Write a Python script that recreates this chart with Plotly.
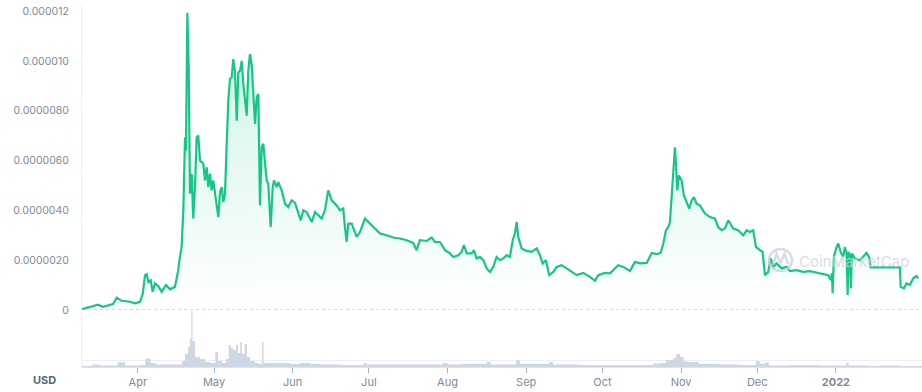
import plotly.graph_objects as go

# ---- price (micro-USD, i.e. x 1e-6 USD) ----
price_dates = [
 "2021-03-10 00:00","2021-03-13 04:00","2021-03-16 07:00","2021-03-18 06:00","2021-03-22 05:00",
 "2021-03-23 16:00","2021-03-25 15:00","2021-03-28 22:00","2021-03-30 21:00","2021-04-01 20:00",
 "2021-04-02 22:00","2021-04-03 20:00","2021-04-04 12:00","2021-04-05 03:00","2021-04-06 01:00",
 "2021-04-06 20:00","2021-04-07 18:00","2021-04-09 01:00","2021-04-10 09:00","2021-04-12 02:00",
 "2021-04-13 16:00","2021-04-15 15:00","2021-04-16 22:00","2021-04-17 14:00","2021-04-18 06:00",
 "2021-04-18 22:00","2021-04-19 14:00","2021-04-19 23:00","2021-04-20 12:00","2021-04-21 01:00",
 "2021-04-21 13:00","2021-04-22 05:00","2021-04-22 20:00","2021-04-23 12:00","2021-04-24 04:00",
 "2021-04-24 19:00","2021-04-25 12:00","2021-04-26 19:00","2021-04-27 11:00","2021-04-28 03:00",
 "2021-04-28 18:00","2021-04-29 10:00","2021-04-30 02:00","2021-04-30 17:00","2021-05-02 01:00",
 "2021-05-02 17:00","2021-05-03 09:00","2021-05-04 01:00","2021-05-04 16:00","2021-05-05 08:00",
 "2021-05-06 00:00","2021-05-06 15:00","2021-05-07 07:00","2021-05-07 23:00","2021-05-08 14:00",
 "2021-05-09 06:00","2021-05-09 23:00","2021-05-10 14:00","2021-05-11 06:00","2021-05-11 22:00",
 "2021-05-12 13:00","2021-05-13 05:00","2021-05-13 21:00","2021-05-14 12:00","2021-05-15 04:00",
 "2021-05-15 20:00","2021-05-16 12:00","2021-05-17 04:00","2021-05-17 20:00","2021-05-18 11:00",
 "2021-05-19 03:00","2021-05-19 19:00","2021-05-20 10:00","2021-05-21 02:00","2021-05-21 18:00",
 "2021-05-22 09:00","2021-05-23 08:00","2021-05-24 03:00","2021-05-24 15:00","2021-05-25 17:00",
 "2021-05-26 08:00","2021-05-27 16:00","2021-05-28 23:00","2021-05-30 06:00","2021-05-31 14:00",
 "2021-06-01 22:00","2021-06-03 05:00","2021-06-04 04:00","2021-06-05 04:00","2021-06-06 12:00",
 "2021-06-08 12:00","2021-06-09 19:00","2021-06-11 02:00","2021-06-12 10:00","2021-06-13 17:00",
 "2021-06-15 00:00","2021-06-16 09:00","2021-06-18 08:00","2021-06-19 15:00","2021-06-20 22:00",
 "2021-06-21 14:00","2021-06-22 06:00","2021-06-22 22:00","2021-06-24 06:00","2021-06-26 05:00",
 "2021-06-27 12:00","2021-06-29 11:00","2021-06-30 18:00","2021-07-02 18:00","2021-07-05 09:00",
 "2021-07-08 00:00","2021-07-10 15:00","2021-07-13 06:00","2021-07-15 22:00","2021-07-18 12:00",
 "2021-07-19 20:00","2021-07-21 03:00","2021-07-23 19:00","2021-07-25 18:00","2021-07-27 01:00",
 "2021-07-29 00:00","2021-07-31 00:00","2021-08-01 23:00","2021-08-03 06:00","2021-08-05 06:00",
 "2021-08-06 13:00","2021-08-07 11:00","2021-08-08 13:00","2021-08-10 12:00","2021-08-11 10:00",
 "2021-08-12 11:00","2021-08-13 18:00","2021-08-15 02:00","2021-08-16 10:00","2021-08-17 17:00",
 "2021-08-19 00:00","2021-08-20 08:00","2021-08-21 16:00","2021-08-22 23:00","2021-08-24 07:00",
 "2021-08-25 14:00","2021-08-26 16:00","2021-08-27 13:00","2021-08-28 06:00","2021-08-28 21:00",
 "2021-08-30 05:00","2021-09-01 04:00","2021-09-03 03:00","2021-09-05 03:00","2021-09-06 10:00",
 "2021-09-07 11:00","2021-09-08 18:00","2021-09-10 02:00","2021-09-11 16:00","2021-09-13 00:00",
 "2021-09-14 23:00","2021-09-16 22:00","2021-09-18 22:00","2021-09-20 21:00","2021-09-23 11:00",
 "2021-09-26 02:00","2021-09-28 02:00","2021-09-29 09:00","2021-10-02 00:00","2021-10-04 00:00",
 "2021-10-07 06:00","2021-10-09 05:00","2021-10-11 21:00","2021-10-13 20:00","2021-10-15 19:00",
 "2021-10-18 11:00","2021-10-20 10:00","2021-10-22 09:00","2021-10-23 23:00","2021-10-25 00:00",
 "2021-10-26 01:00","2021-10-26 23:00","2021-10-27 15:00","2021-10-28 07:00","2021-10-28 22:00",
 "2021-10-29 14:00","2021-10-30 00:00","2021-10-30 12:00","2021-10-31 04:00","2021-11-01 05:00",
 "2021-11-02 03:00","2021-11-03 05:00","2021-11-04 05:00","2021-11-05 04:00","2021-11-06 02:00",
 "2021-11-07 03:00","2021-11-08 10:00","2021-11-10 10:00","2021-11-12 09:00","2021-11-14 08:00",
 "2021-11-15 15:00","2021-11-17 00:00","2021-11-18 07:00","2021-11-19 14:00","2021-11-21 13:00",
 "2021-11-23 12:00","2021-11-25 12:00","2021-11-26 20:00","2021-11-28 03:00","2021-11-29 10:00",
 "2021-11-30 12:00","2021-12-02 02:00","2021-12-03 03:00","2021-12-04 01:00","2021-12-05 08:00",
 "2021-12-06 07:00","2021-12-07 07:00","2021-12-08 15:00","2021-12-10 15:00","2021-12-12 14:00",
 "2021-12-13 21:00","2021-12-16 12:00","2021-12-19 03:00","2021-12-21 18:00","2021-12-24 10:00",
 "2021-12-27 00:00","2021-12-28 23:00","2021-12-29 22:00","2021-12-30 10:00","2021-12-30 17:00",
 "2021-12-31 05:00","2022-01-01 07:00","2022-01-01 22:00","2022-01-02 21:00","2022-01-03 21:00",
 "2022-01-04 13:00","2022-01-05 05:00","2022-01-05 15:00","2022-01-06 00:00","2022-01-06 12:00",
 "2022-01-06 22:00","2022-01-07 07:00","2022-01-08 12:00","2022-01-10 11:00","2022-01-11 18:00",
 "2022-01-13 02:00","2022-01-14 03:00","2022-01-14 16:00","2022-01-26 05:00","2022-01-26 12:00",
 "2022-01-27 19:00","2022-01-28 20:00","2022-01-30 03:00","2022-01-31 11:00","2022-02-01 19:00",
 "2022-02-02 10:00",
]
price_usd_e6 = [
 0.03,0.11,0.21,0.13,0.24,
 0.49,0.37,0.33,0.27,0.33,
 0.64,1.40,1.44,1.13,1.20,
 0.73,1.07,0.96,0.73,1.00,
 0.83,0.93,1.60,2.13,2.53,
 4.00,6.93,6.40,11.93,9.73,
 4.67,5.47,3.67,4.93,6.93,
 7.00,6.00,5.87,5.20,5.73,
 4.93,5.47,4.80,5.20,4.27,
 3.73,4.73,4.93,4.33,4.67,
 6.67,8.40,9.27,9.33,10.07,
 9.60,7.60,9.53,9.60,10.00,
 9.07,8.40,7.80,9.60,10.27,
 9.87,8.67,7.47,8.53,8.67,
 4.20,6.53,6.67,6.00,5.20,
 5.07,3.33,4.93,5.20,4.93,
 5.13,4.80,4.27,4.13,4.40,
 4.30,3.93,3.60,4.00,3.93,
 3.53,3.93,3.80,3.67,4.00,
 4.80,4.40,4.20,4.00,4.07,
 3.33,2.73,3.47,3.47,2.93,
 3.13,3.67,3.53,3.33,3.07,
 3.00,2.91,2.87,2.80,2.69,
 2.40,2.80,2.77,2.91,2.73,
 2.73,2.40,2.27,2.13,2.20,
 2.33,2.60,2.27,2.27,2.40,
 2.07,2.13,2.00,1.67,1.53,
 1.73,2.13,2.00,2.07,2.20,
 2.13,2.80,3.07,3.53,2.93,
 2.47,2.37,2.33,2.47,2.20,
 1.87,2.00,1.40,1.53,1.73,
 1.80,1.67,1.53,1.40,1.49,
 1.33,1.17,1.40,1.49,1.47,
 1.80,1.73,1.57,1.93,1.87,
 1.89,2.29,2.24,2.29,2.67,
 3.20,3.33,3.53,4.53,5.87,
 6.53,5.87,4.80,5.40,5.20,
 4.60,4.33,4.07,4.40,4.53,
 4.27,4.20,3.87,3.73,3.67,
 3.33,3.20,3.27,3.60,3.27,
 3.20,3.00,3.20,3.13,3.20,
 2.53,2.40,2.33,1.40,1.53,
 2.07,1.73,1.87,1.67,1.73,
 1.56,1.60,1.53,1.56,1.49,
 1.44,1.40,1.20,1.47,0.67,
 2.13,2.53,2.67,2.33,2.13,
 2.53,2.27,0.60,2.33,2.20,
 0.87,2.27,2.07,2.00,2.13,
 2.29,2.11,1.71,1.71,0.93,
 0.87,1.07,1.00,1.27,1.36,
 1.27,
]

# ---- volume (relative units) ----
volume_dates = [
 "2021-03-10","2021-03-14","2021-03-17","2021-03-24","2021-03-27","2021-04-02","2021-04-04",
 "2021-04-06","2021-04-08","2021-04-12","2021-04-16","2021-04-18 09:00","2021-04-19 14:00",
 "2021-04-20 18:00","2021-04-21 13:00","2021-04-22 01:00","2021-04-22 13:00","2021-04-23 12:00",
 "2021-04-25 12:00","2021-04-27 11:00","2021-04-29 10:00","2021-05-01 12:00","2021-05-02 14:00",
 "2021-05-04 04:00","2021-05-05 17:00","2021-05-06 19:00","2021-05-07 17:00","2021-05-08 12:00",
 "2021-05-09 16:00","2021-05-10 11:00","2021-05-11 08:00","2021-05-12 00:00","2021-05-13 02:00",
 "2021-05-14 00:00","2021-05-15 04:00","2021-05-17 04:00","2021-05-18 08:00","2021-05-19 22:00",
 "2021-05-20 12:00","2021-05-23","2021-05-27","2021-05-31","2021-06-04","2021-06-08",
 "2021-06-12","2021-06-20","2021-06-29","2021-06-30","2021-07-05","2021-07-13","2021-07-21",
 "2021-07-30","2021-08-01","2021-08-06","2021-08-16 12:00","2021-08-18","2021-08-28",
 "2021-08-29 12:00","2021-09-10","2021-09-11 12:00","2021-09-22","2021-09-30","2021-10-08",
 "2021-10-16","2021-10-21","2021-10-24","2021-10-26","2021-10-29","2021-10-30","2021-10-31 14:00",
 "2021-11-02","2021-11-04","2021-11-08","2021-11-16","2021-11-24","2021-11-30 12:00",
 "2021-12-02","2021-12-04","2021-12-05 14:00","2021-12-14","2021-12-25","2022-01-05",
 "2022-01-06","2022-01-14","2022-01-18","2022-01-26","2022-02-03 22:00",
]
volume_rel = [
 1,2.5,1.5,4.7,1.5,2,8.4,
 4,2.5,2.5,2.5,6,13,
 20,28,56,26,10,
 8,5,4,15,6,
 4,8,22,19,17,
 22,14,25,13,23,
 10,6,4,3,25,
 4,4,4,3,4,3,
 2.5,2,4,2.5,2.5,2.5,2.5,
 4,2.5,3,5,2.5,6.7,
 3,5,2.5,2,2,2,
 2,3.5,4,7,9,12.7,10,
 5.5,5,3,2.5,2,6,
 3,4.5,1.5,2,1.5,4,
 1.5,1,1.5,1,1,
]

# ---- axis tick labels ----
price_tick_vals = [0, 2, 4, 6, 8, 10, 12]
price_tick_text = ["0", "0.0000020", "0.0000040", "0.0000060", "0.0000080", "0.000010", "0.000012"]
month_tick_vals = ["2021-04-01", "2021-05-01", "2021-06-01", "2021-07-01", "2021-08-01",
                   "2021-09-01", "2021-10-01", "2021-11-01", "2021-12-01", "2022-01-01"]
month_tick_text = ["Apr", "May", "Jun", "Jul", "Aug", "Sep", "Oct", "Nov", "Dec", "<b>2022</b>"]

GREEN = "#16c784"
LABEL = "#808a9d"
FONT = "Inter"
FS = 10.5

fig = go.Figure()

fig.add_trace(go.Scatter(
    x=volume_dates, y=volume_rel, yaxis="y2", mode="lines", line_shape="hv",
    line=dict(width=0, color="#cfd6e4"), fill="tozeroy", fillcolor="#cfd6e4",
    hoverinfo="skip", showlegend=False))

fig.add_trace(go.Scatter(
    x=price_dates, y=price_usd_e6, yaxis="y", mode="lines",
    line=dict(color=GREEN, width=2.2), fill="tozeroy",
    fillgradient=dict(type="vertical",
                      colorscale=[[0, "rgba(22,199,132,0.0)"], [1, "rgba(22,199,132,0.22)"]]),
    hoverinfo="skip", showlegend=False))

dom_split = 57 / 362
y_max = 12 * 305 / 299

fig.update_layout(
    width=922, height=392,
    margin=dict(l=82, r=0, t=5, b=25, autoexpand=False),
    paper_bgcolor="white", plot_bgcolor="white",
    font=dict(family=FONT, size=FS, color=LABEL),
    xaxis=dict(
        type="date", range=["2021-03-10", "2022-02-03 22:00"], anchor="y2",
        tickmode="array", tickvals=month_tick_vals, ticktext=month_tick_text,
        ticks="outside", ticklen=5, tickcolor="#a6b0c3", tickwidth=1,
        showline=True, linecolor="#dfe3eb", linewidth=1,
        showgrid=False, zeroline=False, automargin=False,
        tickfont=dict(family=FONT, size=FS + 0.5, color=LABEL),
    ),
    yaxis=dict(
        domain=[dom_split, 1], range=[0, y_max], automargin=False,
        tickmode="array", tickvals=price_tick_vals, ticktext=price_tick_text,
        showgrid=False, zeroline=False, showline=True, linecolor="#eff2f5", linewidth=1,
        ticks="", ticklabelstandoff=10,
        tickfont=dict(family=FONT, size=FS, color=LABEL),
    ),
    yaxis3=dict(
        overlaying="y", range=[0, y_max], automargin=False,
        tickmode="array", tickvals=[2, 4, 6, 8, 10, 12],
        showgrid=True, gridcolor="#eff2f5", gridwidth=1,
        showticklabels=False, zeroline=False, showline=False,
    ),
    yaxis2=dict(
        domain=[0, dom_split], range=[0, 57], automargin=False,
        tickmode="array", tickvals=[7], showgrid=True, gridcolor="#eceff4",
        showticklabels=False, zeroline=False, showline=True, linecolor="#eff2f5",
        ticks="",
    ),
)

# dotted zero line of the price panel
fig.add_shape(type="line", xref="paper", x0=0, x1=1, yref="y", y0=0, y1=0,
              line=dict(color="#a6b0c3", width=1, dash="dot"), layer="above")

# watermark
WM = "rgba(200,207,222,0.75)"
fig.add_shape(type="circle", xref="paper", yref="paper",
              x0=(769 - 82) / 840, x1=(792 - 82) / 840, y0=(367 - 271) / 362, y1=(367 - 249) / 362,
              line=dict(color=WM, width=2.5), layer="above")
fig.add_shape(type="path", xref="paper", yref="paper",
              path="M %f %f L %f %f L %f %f L %f %f L %f %f" % (
                  (773 - 82) / 840, (367 - 265) / 362,
                  (776.5 - 82) / 840, (367 - 254) / 362,
                  (780.5 - 82) / 840, (367 - 263) / 362,
                  (784.5 - 82) / 840, (367 - 254) / 362,
                  (788 - 82) / 840, (367 - 264) / 362),
              line=dict(color=WM, width=2.5), layer="above")
fig.add_annotation(text="CoinMarketCap", xref="paper", yref="paper",
                   x=(854 - 82) / 840, y=(367 - 261) / 362, showarrow=False,
                   xanchor="center", yanchor="middle",
                   font=dict(family=FONT, size=15, color=WM))

fig.add_annotation(text="<b>USD</b>", xref="paper", yref="paper",
                   x=(44 - 82) / 840, y=(367 - 380) / 362, showarrow=False,
                   xanchor="center", yanchor="middle",
                   font=dict(family=FONT, size=11, color="#58667e"))

fig.write_html("out.html", config={"displayModeBar": False},
               post_script="document.body.style.margin='0';document.body.style.overflow='hidden';")
